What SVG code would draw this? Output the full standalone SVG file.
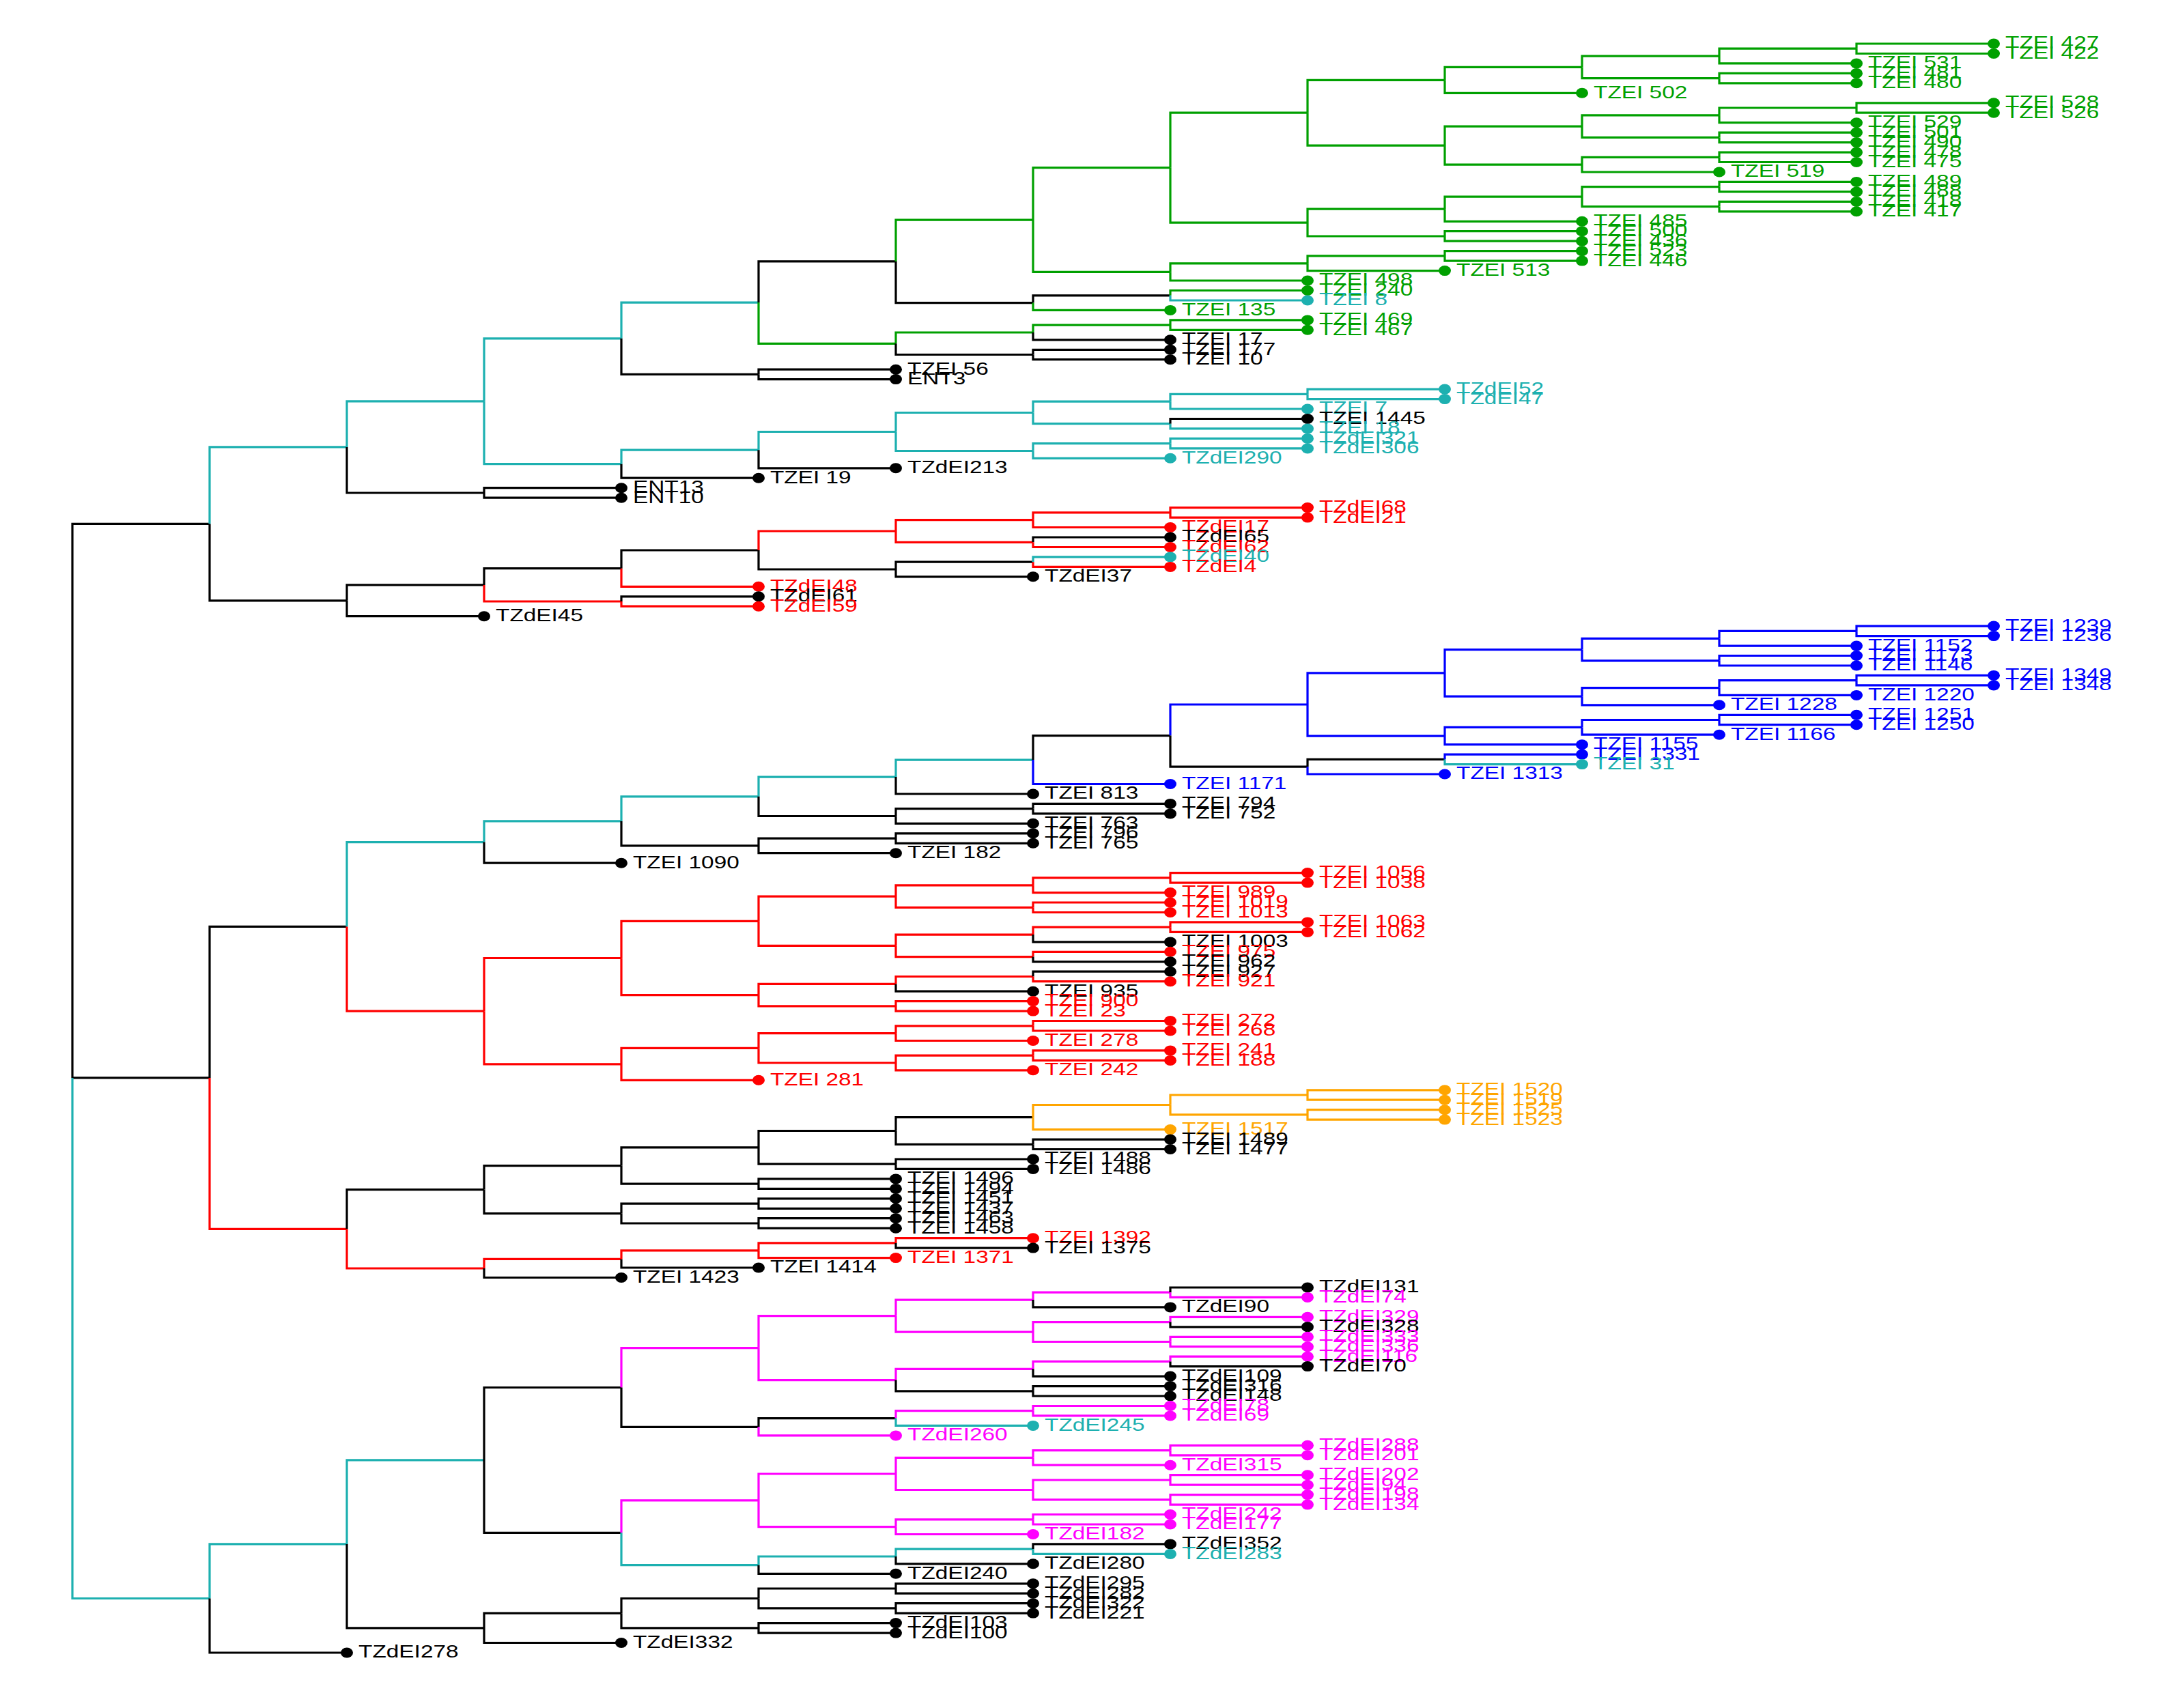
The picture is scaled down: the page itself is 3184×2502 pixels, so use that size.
<svg xmlns="http://www.w3.org/2000/svg" width="3184" height="2502" viewBox="0 0 3184 2502">
<style>
.E path{fill:none;stroke-width:3.2;stroke-linejoin:miter}
.E .k{stroke:#000}.E .g{stroke:#00A000}.E .c{stroke:#1DB0B0}.E .r{stroke:#FF0000}.E .b{stroke:#0000FF}.E .m{stroke:#FF00FF}.E .o{stroke:#FFA500}
.N .k{fill:#000}.N .g{fill:#00A000}.N .c{fill:#1DB0B0}.N .r{fill:#FF0000}.N .b{fill:#0000FF}.N .m{fill:#FF00FF}.N .o{fill:#FFA500}
.N ellipse{rx:9px;ry:7.5px}
.N text{font-family:"Liberation Sans",Arial,sans-serif;font-size:26.5px;transform:scale(1.26,1)}
</style>
<rect width="3184" height="2502" fill="#fff"/>
<g id="connectors" class="E">
<path class="k" d="M106,1578.9V767.4H307"/><path class="k" d="M106,1578.9H307"/><path class="c" d="M106,1578.9V2341.5H307"/>
<path class="c" d="M307,767.4V654.9H508"/><path class="k" d="M307,767.4V879.8H508"/>
<path class="c" d="M508,654.9V587.8H709"/><path class="k" d="M508,654.9V722H709"/>
<path class="c" d="M709,587.8V495.8H910"/><path class="c" d="M709,587.8V679.7H910"/>
<path class="c" d="M910,495.8V443.1H1111"/><path class="k" d="M910,495.8V548.4H1111"/>
<path class="k" d="M1111,443.1V382.9H1312"/><path class="g" d="M1111,443.1V503.3H1312"/>
<path class="g" d="M1312,382.9V322.1H1513"/><path class="k" d="M1312,382.9V443.6H1513"/>
<path class="g" d="M1513,322.1V245.7H1714"/><path class="g" d="M1513,322.1V398.4H1714"/>
<path class="g" d="M1714,245.7V165.2H1915"/><path class="g" d="M1714,245.7V326.1H1915"/>
<path class="g" d="M1915,165.2V117.3H2116"/><path class="g" d="M1915,165.2V213.1H2116"/>
<path class="g" d="M2116,117.3V98.3H2317"/><path class="g" d="M2116,117.3V136.3H2317"/>
<path class="g" d="M2317,98.3V82.1H2518"/><path class="g" d="M2317,98.3V114.6H2518"/>
<path class="g" d="M2518,82.1V71.2H2719"/><path class="g" d="M2518,82.1V92.9H2719"/>
<path class="g" d="M2719,71.2V64H2920"/><path class="g" d="M2719,71.2V78.5H2920"/>
<path class="g" d="M2518,114.6V107.4H2719"/><path class="g" d="M2518,114.6V121.8H2719"/>
<path class="g" d="M2116,213.1V185.1H2317"/><path class="g" d="M2116,213.1V241.1H2317"/>
<path class="g" d="M2317,185.1V168.8H2518"/><path class="g" d="M2317,185.1V201.4H2518"/>
<path class="g" d="M2518,168.8V158H2719"/><path class="g" d="M2518,168.8V179.7H2719"/>
<path class="g" d="M2719,158V150.8H2920"/><path class="g" d="M2719,158V165.2H2920"/>
<path class="g" d="M2518,201.4V194.1H2719"/><path class="g" d="M2518,201.4V208.6H2719"/>
<path class="g" d="M2317,241.1V230.3H2518"/><path class="g" d="M2317,241.1V252H2518"/>
<path class="g" d="M2518,230.3V223.1H2719"/><path class="g" d="M2518,230.3V237.5H2719"/>
<path class="g" d="M1915,326.1V306.2H2116"/><path class="g" d="M1915,326.1V346H2116"/>
<path class="g" d="M2116,306.2V288.1H2317"/><path class="g" d="M2116,306.2V324.3H2317"/>
<path class="g" d="M2317,288.1V273.7H2518"/><path class="g" d="M2317,288.1V302.6H2518"/>
<path class="g" d="M2518,273.7V266.4H2719"/><path class="g" d="M2518,273.7V280.9H2719"/>
<path class="g" d="M2518,302.6V295.4H2719"/><path class="g" d="M2518,302.6V309.8H2719"/>
<path class="g" d="M2116,346V338.7H2317"/><path class="g" d="M2116,346V353.2H2317"/>
<path class="g" d="M1714,398.4V385.8H1915"/><path class="g" d="M1714,398.4V411H1915"/>
<path class="g" d="M1915,385.8V374.9H2116"/><path class="g" d="M1915,385.8V396.6H2116"/>
<path class="g" d="M2116,374.9V367.7H2317"/><path class="g" d="M2116,374.9V382.1H2317"/>
<path class="k" d="M1513,443.6V432.8H1714"/><path class="g" d="M1513,443.6V454.4H1714"/>
<path class="g" d="M1714,432.8V425.5H1915"/><path class="c" d="M1714,432.8V440H1915"/>
<path class="g" d="M1312,503.3V487H1513"/><path class="k" d="M1312,503.3V519.5H1513"/>
<path class="g" d="M1513,487V476.1H1714"/><path class="k" d="M1513,487V497.8H1714"/>
<path class="g" d="M1714,476.1V468.9H1915"/><path class="g" d="M1714,476.1V483.3H1915"/>
<path class="k" d="M1513,519.5V512.3H1714"/><path class="k" d="M1513,519.5V526.7H1714"/>
<path class="k" d="M1111,548.4V541.2H1312"/><path class="k" d="M1111,548.4V555.6H1312"/>
<path class="c" d="M910,679.7V659.2H1111"/><path class="k" d="M910,679.7V700.2H1111"/>
<path class="c" d="M1111,659.2V632.5H1312"/><path class="k" d="M1111,659.2V685.8H1312"/>
<path class="c" d="M1312,632.5V604.5H1513"/><path class="c" d="M1312,632.5V660.5H1513"/>
<path class="c" d="M1513,604.5V588.2H1714"/><path class="c" d="M1513,604.5V620.7H1714"/>
<path class="c" d="M1714,588.2V577.4H1915"/><path class="c" d="M1714,588.2V599H1915"/>
<path class="c" d="M1915,577.4V570.1H2116"/><path class="c" d="M1915,577.4V584.6H2116"/>
<path class="k" d="M1714,620.7V613.5H1915"/><path class="c" d="M1714,620.7V627.9H1915"/>
<path class="c" d="M1513,660.5V649.7H1714"/><path class="c" d="M1513,660.5V671.3H1714"/>
<path class="c" d="M1714,649.7V642.4H1915"/><path class="c" d="M1714,649.7V656.9H1915"/>
<path class="k" d="M709,722V714.7H910"/><path class="k" d="M709,722V729.2H910"/>
<path class="k" d="M508,879.8V856.9H709"/><path class="k" d="M508,879.8V902.7H709"/>
<path class="k" d="M709,856.9V832.7H910"/><path class="r" d="M709,856.9V881H910"/>
<path class="k" d="M910,832.7V806H1111"/><path class="r" d="M910,832.7V859.3H1111"/>
<path class="k" d="M910,881V873.8H1111"/><path class="r" d="M910,881V888.2H1111"/>
<path class="r" d="M1111,806V778H1312"/><path class="k" d="M1111,806V834H1312"/>
<path class="r" d="M1312,778V761.7H1513"/><path class="r" d="M1312,778V794.3H1513"/>
<path class="r" d="M1513,761.7V750.9H1714"/><path class="r" d="M1513,761.7V772.5H1714"/>
<path class="r" d="M1714,750.9V743.6H1915"/><path class="r" d="M1714,750.9V758.1H1915"/>
<path class="k" d="M1513,794.3V787H1714"/><path class="r" d="M1513,794.3V801.5H1714"/>
<path class="k" d="M1312,834V823.2H1513"/><path class="k" d="M1312,834V844.8H1513"/>
<path class="c" d="M1513,823.2V815.9H1714"/><path class="r" d="M1513,823.2V830.4H1714"/>
<path class="k" d="M307,1578.9V1357.4H508"/><path class="r" d="M307,1578.9V1800.3H508"/>
<path class="c" d="M508,1357.4V1233.6H709"/><path class="r" d="M508,1357.4V1481.2H709"/>
<path class="c" d="M709,1233.6V1202.9H910"/><path class="k" d="M709,1233.6V1264.2H910"/>
<path class="c" d="M910,1202.9V1166.8H1111"/><path class="k" d="M910,1202.9V1238.9H1111"/>
<path class="c" d="M1111,1166.8V1138.1H1312"/><path class="k" d="M1111,1166.8V1195.5H1312"/>
<path class="c" d="M1312,1138.1V1113.1H1513"/><path class="k" d="M1312,1138.1V1163H1513"/>
<path class="k" d="M1513,1113.1V1077.6H1714"/><path class="b" d="M1513,1113.1V1148.5H1714"/>
<path class="b" d="M1714,1077.6V1032H1915"/><path class="k" d="M1714,1077.6V1123.2H1915"/>
<path class="b" d="M1915,1032V985.9H2116"/><path class="b" d="M1915,1032V1078.1H2116"/>
<path class="b" d="M2116,985.9V951.6H2317"/><path class="b" d="M2116,985.9V1020.2H2317"/>
<path class="b" d="M2317,951.6V935.3H2518"/><path class="b" d="M2317,951.6V967.8H2518"/>
<path class="b" d="M2518,935.3V924.4H2719"/><path class="b" d="M2518,935.3V946.1H2719"/>
<path class="b" d="M2719,924.4V917.1H2920"/><path class="b" d="M2719,924.4V931.6H2920"/>
<path class="b" d="M2518,967.8V960.5H2719"/><path class="b" d="M2518,967.8V975H2719"/>
<path class="b" d="M2317,1020.2V1007.6H2518"/><path class="b" d="M2317,1020.2V1032.8H2518"/>
<path class="b" d="M2518,1007.6V996.7H2719"/><path class="b" d="M2518,1007.6V1018.4H2719"/>
<path class="b" d="M2719,996.7V989.4H2920"/><path class="b" d="M2719,996.7V1003.9H2920"/>
<path class="b" d="M2116,1078.1V1065.4H2317"/><path class="b" d="M2116,1078.1V1090.7H2317"/>
<path class="b" d="M2317,1065.4V1054.5H2518"/><path class="b" d="M2317,1065.4V1076.2H2518"/>
<path class="b" d="M2518,1054.5V1047.3H2719"/><path class="b" d="M2518,1054.5V1061.7H2719"/>
<path class="k" d="M1915,1123.2V1112.4H2116"/><path class="b" d="M1915,1123.2V1134H2116"/>
<path class="b" d="M2116,1112.4V1105.1H2317"/><path class="c" d="M2116,1112.4V1119.6H2317"/>
<path class="k" d="M1312,1195.5V1184.7H1513"/><path class="k" d="M1312,1195.5V1206.3H1513"/>
<path class="k" d="M1513,1184.7V1177.4H1714"/><path class="k" d="M1513,1184.7V1191.9H1714"/>
<path class="k" d="M1111,1238.9V1228.1H1312"/><path class="k" d="M1111,1238.9V1249.7H1312"/>
<path class="k" d="M1312,1228.1V1220.8H1513"/><path class="k" d="M1312,1228.1V1235.3H1513"/>
<path class="r" d="M709,1481.2V1403.5H910"/><path class="r" d="M709,1481.2V1558.9H910"/>
<path class="r" d="M910,1403.5V1349.3H1111"/><path class="r" d="M910,1403.5V1457.7H1111"/>
<path class="r" d="M1111,1349.3V1313.1H1312"/><path class="r" d="M1111,1349.3V1385.4H1312"/>
<path class="r" d="M1312,1313.1V1296.8H1513"/><path class="r" d="M1312,1313.1V1329.3H1513"/>
<path class="r" d="M1513,1296.8V1285.9H1714"/><path class="r" d="M1513,1296.8V1307.6H1714"/>
<path class="r" d="M1714,1285.9V1278.6H1915"/><path class="r" d="M1714,1285.9V1293.1H1915"/>
<path class="r" d="M1513,1329.3V1322H1714"/><path class="r" d="M1513,1329.3V1336.5H1714"/>
<path class="r" d="M1312,1385.4V1369.1H1513"/><path class="r" d="M1312,1385.4V1401.6H1513"/>
<path class="r" d="M1513,1369.1V1358.2H1714"/><path class="k" d="M1513,1369.1V1379.9H1714"/>
<path class="r" d="M1714,1358.2V1350.9H1915"/><path class="r" d="M1714,1358.2V1365.4H1915"/>
<path class="r" d="M1513,1401.6V1394.3H1714"/><path class="k" d="M1513,1401.6V1408.8H1714"/>
<path class="r" d="M1111,1457.7V1441.4H1312"/><path class="r" d="M1111,1457.7V1473.9H1312"/>
<path class="r" d="M1312,1441.4V1430.5H1513"/><path class="k" d="M1312,1441.4V1452.2H1513"/>
<path class="k" d="M1513,1430.5V1423.2H1714"/><path class="r" d="M1513,1430.5V1437.7H1714"/>
<path class="r" d="M1312,1473.9V1466.6H1513"/><path class="r" d="M1312,1473.9V1481.1H1513"/>
<path class="r" d="M910,1558.9V1535.4H1111"/><path class="r" d="M910,1558.9V1582.3H1111"/>
<path class="r" d="M1111,1535.4V1513.7H1312"/><path class="r" d="M1111,1535.4V1557H1312"/>
<path class="r" d="M1312,1513.7V1502.8H1513"/><path class="r" d="M1312,1513.7V1524.5H1513"/>
<path class="r" d="M1513,1502.8V1495.5H1714"/><path class="r" d="M1513,1502.8V1510H1714"/>
<path class="r" d="M1312,1557V1546.2H1513"/><path class="r" d="M1312,1557V1567.8H1513"/>
<path class="r" d="M1513,1546.2V1538.9H1714"/><path class="r" d="M1513,1546.2V1553.4H1714"/>
<path class="k" d="M508,1800.3V1742.6H709"/><path class="r" d="M508,1800.3V1858H709"/>
<path class="k" d="M709,1742.6V1707.6H910"/><path class="k" d="M709,1742.6V1777.6H910"/>
<path class="k" d="M910,1707.6V1680.9H1111"/><path class="k" d="M910,1707.6V1734.2H1111"/>
<path class="k" d="M1111,1680.9V1656.5H1312"/><path class="k" d="M1111,1680.9V1705.2H1312"/>
<path class="k" d="M1312,1656.5V1636.6H1513"/><path class="k" d="M1312,1656.5V1676.3H1513"/>
<path class="o" d="M1513,1636.6V1618.5H1714"/><path class="o" d="M1513,1636.6V1654.6H1714"/>
<path class="o" d="M1714,1618.5V1604H1915"/><path class="o" d="M1714,1618.5V1632.9H1915"/>
<path class="o" d="M1915,1604V1596.8H2116"/><path class="o" d="M1915,1604V1611.2H2116"/>
<path class="o" d="M1915,1632.9V1625.7H2116"/><path class="o" d="M1915,1632.9V1640.1H2116"/>
<path class="k" d="M1513,1676.3V1669.1H1714"/><path class="k" d="M1513,1676.3V1683.5H1714"/>
<path class="k" d="M1312,1705.2V1698H1513"/><path class="k" d="M1312,1705.2V1712.4H1513"/>
<path class="k" d="M1111,1734.2V1726.9H1312"/><path class="k" d="M1111,1734.2V1741.4H1312"/>
<path class="k" d="M910,1777.6V1763.1H1111"/><path class="k" d="M910,1777.6V1792H1111"/>
<path class="k" d="M1111,1763.1V1755.8H1312"/><path class="k" d="M1111,1763.1V1770.3H1312"/>
<path class="k" d="M1111,1792V1784.7H1312"/><path class="k" d="M1111,1792V1799.2H1312"/>
<path class="r" d="M709,1858V1844.4H910"/><path class="k" d="M709,1858V1871.5H910"/>
<path class="r" d="M910,1844.4V1831.8H1111"/><path class="k" d="M910,1844.4V1857H1111"/>
<path class="r" d="M1111,1831.8V1820.9H1312"/><path class="r" d="M1111,1831.8V1842.6H1312"/>
<path class="r" d="M1312,1820.9V1813.7H1513"/><path class="k" d="M1312,1820.9V1828.1H1513"/>
<path class="c" d="M307,2341.5V2261.9H508"/><path class="k" d="M307,2341.5V2421H508"/>
<path class="c" d="M508,2261.9V2138.9H709"/><path class="k" d="M508,2261.9V2384.9H709"/>
<path class="k" d="M709,2138.9V2032.5H910"/><path class="k" d="M709,2138.9V2245.3H910"/>
<path class="m" d="M910,2032.5V1974.6H1111"/><path class="k" d="M910,2032.5V2090.3H1111"/>
<path class="m" d="M1111,1974.6V1927.6H1312"/><path class="m" d="M1111,1974.6V2021.6H1312"/>
<path class="m" d="M1312,1927.6V1904.1H1513"/><path class="m" d="M1312,1927.6V1951.1H1513"/>
<path class="m" d="M1513,1904.1V1893.2H1714"/><path class="k" d="M1513,1904.1V1914.9H1714"/>
<path class="k" d="M1714,1893.2V1886H1915"/><path class="m" d="M1714,1893.2V1900.4H1915"/>
<path class="m" d="M1513,1951.1V1936.6H1714"/><path class="m" d="M1513,1951.1V1965.5H1714"/>
<path class="m" d="M1714,1936.6V1929.3H1915"/><path class="k" d="M1714,1936.6V1943.8H1915"/>
<path class="m" d="M1714,1965.5V1958.3H1915"/><path class="m" d="M1714,1965.5V1972.7H1915"/>
<path class="m" d="M1312,2021.6V2005.3H1513"/><path class="k" d="M1312,2021.6V2037.8H1513"/>
<path class="m" d="M1513,2005.3V1994.4H1714"/><path class="k" d="M1513,2005.3V2016.1H1714"/>
<path class="m" d="M1714,1994.4V1987.2H1915"/><path class="k" d="M1714,1994.4V2001.6H1915"/>
<path class="k" d="M1513,2037.8V2030.6H1714"/><path class="k" d="M1513,2037.8V2045H1714"/>
<path class="k" d="M1111,2090.3V2077.6H1312"/><path class="m" d="M1111,2090.3V2102.9H1312"/>
<path class="m" d="M1312,2077.6V2066.7H1513"/><path class="c" d="M1312,2077.6V2088.4H1513"/>
<path class="m" d="M1513,2066.7V2059.5H1714"/><path class="m" d="M1513,2066.7V2073.9H1714"/>
<path class="m" d="M910,2245.3V2197.9H1111"/><path class="c" d="M910,2245.3V2292.7H1111"/>
<path class="m" d="M1111,2197.9V2159H1312"/><path class="m" d="M1111,2197.9V2236.7H1312"/>
<path class="m" d="M1312,2159V2135.4H1513"/><path class="m" d="M1312,2159V2182.5H1513"/>
<path class="m" d="M1513,2135.4V2124.6H1714"/><path class="m" d="M1513,2135.4V2146.2H1714"/>
<path class="m" d="M1714,2124.6V2117.3H1915"/><path class="m" d="M1714,2124.6V2131.8H1915"/>
<path class="m" d="M1513,2182.5V2168H1714"/><path class="m" d="M1513,2182.5V2196.9H1714"/>
<path class="m" d="M1714,2168V2160.7H1915"/><path class="m" d="M1714,2168V2175.2H1915"/>
<path class="m" d="M1714,2196.9V2189.6H1915"/><path class="m" d="M1714,2196.9V2204.1H1915"/>
<path class="m" d="M1312,2236.7V2225.8H1513"/><path class="m" d="M1312,2236.7V2247.5H1513"/>
<path class="m" d="M1513,2225.8V2218.5H1714"/><path class="m" d="M1513,2225.8V2233H1714"/>
<path class="c" d="M1111,2292.7V2280H1312"/><path class="k" d="M1111,2292.7V2305.3H1312"/>
<path class="c" d="M1312,2280V2269.2H1513"/><path class="k" d="M1312,2280V2290.8H1513"/>
<path class="k" d="M1513,2269.2V2261.9H1714"/><path class="c" d="M1513,2269.2V2276.4H1714"/>
<path class="k" d="M709,2384.9V2363.2H910"/><path class="k" d="M709,2384.9V2406.5H910"/>
<path class="k" d="M910,2363.2V2341.5H1111"/><path class="k" d="M910,2363.2V2384.9H1111"/>
<path class="k" d="M1111,2341.5V2327H1312"/><path class="k" d="M1111,2341.5V2355.9H1312"/>
<path class="k" d="M1312,2327V2319.8H1513"/><path class="k" d="M1312,2327V2334.2H1513"/>
<path class="k" d="M1312,2355.9V2348.7H1513"/><path class="k" d="M1312,2355.9V2363.1H1513"/>
<path class="k" d="M1111,2384.9V2377.6H1312"/><path class="k" d="M1111,2384.9V2392.1H1312"/>
</g>
<g id="nodes" class="N">
<g id="n1" class="g"><ellipse cx="2920" cy="64"/><text x="2331" y="71.5">TZEI 427</text></g>
<g id="n2" class="g"><ellipse cx="2920" cy="78.5"/><text x="2331" y="86">TZEI 422</text></g>
<g id="n3" class="g"><ellipse cx="2719" cy="92.9"/><text x="2171.4" y="100.4">TZEI 531</text></g>
<g id="n4" class="g"><ellipse cx="2719" cy="107.4"/><text x="2171.4" y="114.9">TZEI 481</text></g>
<g id="n5" class="g"><ellipse cx="2719" cy="121.8"/><text x="2171.4" y="129.3">TZEI 480</text></g>
<g id="n6" class="g"><ellipse cx="2317" cy="136.3"/><text x="1852.4" y="143.8">TZEI 502</text></g>
<g id="n7" class="g"><ellipse cx="2920" cy="150.8"/><text x="2331" y="158.3">TZEI 528</text></g>
<g id="n8" class="g"><ellipse cx="2920" cy="165.2"/><text x="2331" y="172.7">TZEI 526</text></g>
<g id="n9" class="g"><ellipse cx="2719" cy="179.7"/><text x="2171.4" y="187.2">TZEI 529</text></g>
<g id="n10" class="g"><ellipse cx="2719" cy="194.1"/><text x="2171.4" y="201.6">TZEI 501</text></g>
<g id="n11" class="g"><ellipse cx="2719" cy="208.6"/><text x="2171.4" y="216.1">TZEI 490</text></g>
<g id="n12" class="g"><ellipse cx="2719" cy="223.1"/><text x="2171.4" y="230.6">TZEI 478</text></g>
<g id="n13" class="g"><ellipse cx="2719" cy="237.5"/><text x="2171.4" y="245">TZEI 475</text></g>
<g id="n14" class="g"><ellipse cx="2518" cy="252"/><text x="2011.9" y="259.5">TZEI 519</text></g>
<g id="n15" class="g"><ellipse cx="2719" cy="266.4"/><text x="2171.4" y="273.9">TZEI 489</text></g>
<g id="n16" class="g"><ellipse cx="2719" cy="280.9"/><text x="2171.4" y="288.4">TZEI 488</text></g>
<g id="n17" class="g"><ellipse cx="2719" cy="295.4"/><text x="2171.4" y="302.9">TZEI 418</text></g>
<g id="n18" class="g"><ellipse cx="2719" cy="309.8"/><text x="2171.4" y="317.3">TZEI 417</text></g>
<g id="n19" class="g"><ellipse cx="2317" cy="324.3"/><text x="1852.4" y="331.8">TZEI 485</text></g>
<g id="n20" class="g"><ellipse cx="2317" cy="338.7"/><text x="1852.4" y="346.2">TZEI 500</text></g>
<g id="n21" class="g"><ellipse cx="2317" cy="353.2"/><text x="1852.4" y="360.7">TZEI 436</text></g>
<g id="n22" class="g"><ellipse cx="2317" cy="367.7"/><text x="1852.4" y="375.2">TZEI 523</text></g>
<g id="n23" class="g"><ellipse cx="2317" cy="382.1"/><text x="1852.4" y="389.6">TZEI 446</text></g>
<g id="n24" class="g"><ellipse cx="2116" cy="396.6"/><text x="1692.9" y="404.1">TZEI 513</text></g>
<g id="n25" class="g"><ellipse cx="1915" cy="411"/><text x="1533.3" y="418.5">TZEI 498</text></g>
<g id="n26" class="g"><ellipse cx="1915" cy="425.5"/><text x="1533.3" y="433">TZEI 240</text></g>
<g id="n27" class="c"><ellipse cx="1915" cy="440"/><text x="1533.3" y="447.5">TZEI 8</text></g>
<g id="n28" class="g"><ellipse cx="1714" cy="454.4"/><text x="1373.8" y="461.9">TZEI 135</text></g>
<g id="n29" class="g"><ellipse cx="1915" cy="468.9"/><text x="1533.3" y="476.4">TZEI 469</text></g>
<g id="n30" class="g"><ellipse cx="1915" cy="483.3"/><text x="1533.3" y="490.8">TZEI 467</text></g>
<g id="n31" class="k"><ellipse cx="1714" cy="497.8"/><text x="1373.8" y="505.3">TZEI 17</text></g>
<g id="n32" class="k"><ellipse cx="1714" cy="512.3"/><text x="1373.8" y="519.8">TZEI 177</text></g>
<g id="n33" class="k"><ellipse cx="1714" cy="526.7"/><text x="1373.8" y="534.2">TZEI 10</text></g>
<g id="n34" class="k"><ellipse cx="1312" cy="541.2"/><text x="1054.8" y="548.7">TZEI 56</text></g>
<g id="n35" class="k"><ellipse cx="1312" cy="555.6"/><text x="1054.8" y="563.1">ENT3</text></g>
<g id="n36" class="c"><ellipse cx="2116" cy="570.1"/><text x="1692.9" y="577.6">TZdEI52</text></g>
<g id="n37" class="c"><ellipse cx="2116" cy="584.6"/><text x="1692.9" y="592.1">TZdEI47</text></g>
<g id="n38" class="c"><ellipse cx="1915" cy="599"/><text x="1533.3" y="606.5">TZEI 7</text></g>
<g id="n39" class="k"><ellipse cx="1915" cy="613.5"/><text x="1533.3" y="621">TZEI 1445</text></g>
<g id="n40" class="c"><ellipse cx="1915" cy="627.9"/><text x="1533.3" y="635.4">TZEI 18</text></g>
<g id="n41" class="c"><ellipse cx="1915" cy="642.4"/><text x="1533.3" y="649.9">TZdEI321</text></g>
<g id="n42" class="c"><ellipse cx="1915" cy="656.9"/><text x="1533.3" y="664.4">TZdEI306</text></g>
<g id="n43" class="c"><ellipse cx="1714" cy="671.3"/><text x="1373.8" y="678.8">TZdEI290</text></g>
<g id="n44" class="k"><ellipse cx="1312" cy="685.8"/><text x="1054.8" y="693.3">TZdEI213</text></g>
<g id="n45" class="k"><ellipse cx="1111" cy="700.2"/><text x="895.2" y="707.7">TZEI 19</text></g>
<g id="n46" class="k"><ellipse cx="910" cy="714.7"/><text x="735.7" y="722.2">ENT13</text></g>
<g id="n47" class="k"><ellipse cx="910" cy="729.2"/><text x="735.7" y="736.7">ENT10</text></g>
<g id="n48" class="r"><ellipse cx="1915" cy="743.6"/><text x="1533.3" y="751.1">TZdEI68</text></g>
<g id="n49" class="r"><ellipse cx="1915" cy="758.1"/><text x="1533.3" y="765.6">TZdEI21</text></g>
<g id="n50" class="r"><ellipse cx="1714" cy="772.5"/><text x="1373.8" y="780">TZdEI17</text></g>
<g id="n51" class="k"><ellipse cx="1714" cy="787"/><text x="1373.8" y="794.5">TZdEI65</text></g>
<g id="n52" class="r"><ellipse cx="1714" cy="801.5"/><text x="1373.8" y="809">TZdEI62</text></g>
<g id="n53" class="c"><ellipse cx="1714" cy="815.9"/><text x="1373.8" y="823.4">TZdEI40</text></g>
<g id="n54" class="r"><ellipse cx="1714" cy="830.4"/><text x="1373.8" y="837.9">TZdEI4</text></g>
<g id="n55" class="k"><ellipse cx="1513" cy="844.8"/><text x="1214.3" y="852.3">TZdEI37</text></g>
<g id="n56" class="r"><ellipse cx="1111" cy="859.3"/><text x="895.2" y="866.8">TZdEI48</text></g>
<g id="n57" class="k"><ellipse cx="1111" cy="873.8"/><text x="895.2" y="881.3">TZdEI61</text></g>
<g id="n58" class="r"><ellipse cx="1111" cy="888.2"/><text x="895.2" y="895.7">TZdEI59</text></g>
<g id="n59" class="k"><ellipse cx="709" cy="902.7"/><text x="576.2" y="910.2">TZdEI45</text></g>
<g id="n60" class="b"><ellipse cx="2920" cy="917.1"/><text x="2331" y="924.6">TZEI 1239</text></g>
<g id="n61" class="b"><ellipse cx="2920" cy="931.6"/><text x="2331" y="939.1">TZEI 1236</text></g>
<g id="n62" class="b"><ellipse cx="2719" cy="946.1"/><text x="2171.4" y="953.6">TZEI 1152</text></g>
<g id="n63" class="b"><ellipse cx="2719" cy="960.5"/><text x="2171.4" y="968">TZEI 1173</text></g>
<g id="n64" class="b"><ellipse cx="2719" cy="975"/><text x="2171.4" y="982.5">TZEI 1146</text></g>
<g id="n65" class="b"><ellipse cx="2920" cy="989.4"/><text x="2331" y="996.9">TZEI 1349</text></g>
<g id="n66" class="b"><ellipse cx="2920" cy="1003.9"/><text x="2331" y="1011.4">TZEI 1348</text></g>
<g id="n67" class="b"><ellipse cx="2719" cy="1018.4"/><text x="2171.4" y="1025.9">TZEI 1220</text></g>
<g id="n68" class="b"><ellipse cx="2518" cy="1032.8"/><text x="2011.9" y="1040.3">TZEI 1228</text></g>
<g id="n69" class="b"><ellipse cx="2719" cy="1047.3"/><text x="2171.4" y="1054.8">TZEI 1251</text></g>
<g id="n70" class="b"><ellipse cx="2719" cy="1061.7"/><text x="2171.4" y="1069.2">TZEI 1250</text></g>
<g id="n71" class="b"><ellipse cx="2518" cy="1076.2"/><text x="2011.9" y="1083.7">TZEI 1166</text></g>
<g id="n72" class="b"><ellipse cx="2317" cy="1090.7"/><text x="1852.4" y="1098.2">TZEI 1155</text></g>
<g id="n73" class="b"><ellipse cx="2317" cy="1105.1"/><text x="1852.4" y="1112.6">TZEI 1331</text></g>
<g id="n74" class="c"><ellipse cx="2317" cy="1119.6"/><text x="1852.4" y="1127.1">TZEI 31</text></g>
<g id="n75" class="b"><ellipse cx="2116" cy="1134"/><text x="1692.9" y="1141.5">TZEI 1313</text></g>
<g id="n76" class="b"><ellipse cx="1714" cy="1148.5"/><text x="1373.8" y="1156">TZEI 1171</text></g>
<g id="n77" class="k"><ellipse cx="1513" cy="1163"/><text x="1214.3" y="1170.5">TZEI 813</text></g>
<g id="n78" class="k"><ellipse cx="1714" cy="1177.4"/><text x="1373.8" y="1184.9">TZEI 794</text></g>
<g id="n79" class="k"><ellipse cx="1714" cy="1191.9"/><text x="1373.8" y="1199.4">TZEI 752</text></g>
<g id="n80" class="k"><ellipse cx="1513" cy="1206.3"/><text x="1214.3" y="1213.8">TZEI 763</text></g>
<g id="n81" class="k"><ellipse cx="1513" cy="1220.8"/><text x="1214.3" y="1228.3">TZEI 796</text></g>
<g id="n82" class="k"><ellipse cx="1513" cy="1235.3"/><text x="1214.3" y="1242.8">TZEI 765</text></g>
<g id="n83" class="k"><ellipse cx="1312" cy="1249.7"/><text x="1054.8" y="1257.2">TZEI 182</text></g>
<g id="n84" class="k"><ellipse cx="910" cy="1264.2"/><text x="735.7" y="1271.7">TZEI 1090</text></g>
<g id="n85" class="r"><ellipse cx="1915" cy="1278.6"/><text x="1533.3" y="1286.1">TZEI 1056</text></g>
<g id="n86" class="r"><ellipse cx="1915" cy="1293.1"/><text x="1533.3" y="1300.6">TZEI 1038</text></g>
<g id="n87" class="r"><ellipse cx="1714" cy="1307.6"/><text x="1373.8" y="1315.1">TZEI 989</text></g>
<g id="n88" class="r"><ellipse cx="1714" cy="1322"/><text x="1373.8" y="1329.5">TZEI 1019</text></g>
<g id="n89" class="r"><ellipse cx="1714" cy="1336.5"/><text x="1373.8" y="1344">TZEI 1013</text></g>
<g id="n90" class="r"><ellipse cx="1915" cy="1350.9"/><text x="1533.3" y="1358.4">TZEI 1063</text></g>
<g id="n91" class="r"><ellipse cx="1915" cy="1365.4"/><text x="1533.3" y="1372.9">TZEI 1062</text></g>
<g id="n92" class="k"><ellipse cx="1714" cy="1379.9"/><text x="1373.8" y="1387.4">TZEI 1003</text></g>
<g id="n93" class="r"><ellipse cx="1714" cy="1394.3"/><text x="1373.8" y="1401.8">TZEI 975</text></g>
<g id="n94" class="k"><ellipse cx="1714" cy="1408.8"/><text x="1373.8" y="1416.3">TZEI 962</text></g>
<g id="n95" class="k"><ellipse cx="1714" cy="1423.2"/><text x="1373.8" y="1430.7">TZEI 927</text></g>
<g id="n96" class="r"><ellipse cx="1714" cy="1437.7"/><text x="1373.8" y="1445.2">TZEI 921</text></g>
<g id="n97" class="k"><ellipse cx="1513" cy="1452.2"/><text x="1214.3" y="1459.7">TZEI 935</text></g>
<g id="n98" class="r"><ellipse cx="1513" cy="1466.6"/><text x="1214.3" y="1474.1">TZEI 900</text></g>
<g id="n99" class="r"><ellipse cx="1513" cy="1481.1"/><text x="1214.3" y="1488.6">TZEI 23</text></g>
<g id="n100" class="r"><ellipse cx="1714" cy="1495.5"/><text x="1373.8" y="1503">TZEI 272</text></g>
<g id="n101" class="r"><ellipse cx="1714" cy="1510"/><text x="1373.8" y="1517.5">TZEI 268</text></g>
<g id="n102" class="r"><ellipse cx="1513" cy="1524.5"/><text x="1214.3" y="1532">TZEI 278</text></g>
<g id="n103" class="r"><ellipse cx="1714" cy="1538.9"/><text x="1373.8" y="1546.4">TZEI 241</text></g>
<g id="n104" class="r"><ellipse cx="1714" cy="1553.4"/><text x="1373.8" y="1560.9">TZEI 188</text></g>
<g id="n105" class="r"><ellipse cx="1513" cy="1567.8"/><text x="1214.3" y="1575.3">TZEI 242</text></g>
<g id="n106" class="r"><ellipse cx="1111" cy="1582.3"/><text x="895.2" y="1589.8">TZEI 281</text></g>
<g id="n107" class="o"><ellipse cx="2116" cy="1596.8"/><text x="1692.9" y="1604.3">TZEI 1520</text></g>
<g id="n108" class="o"><ellipse cx="2116" cy="1611.2"/><text x="1692.9" y="1618.7">TZEI 1519</text></g>
<g id="n109" class="o"><ellipse cx="2116" cy="1625.7"/><text x="1692.9" y="1633.2">TZEI 1525</text></g>
<g id="n110" class="o"><ellipse cx="2116" cy="1640.1"/><text x="1692.9" y="1647.6">TZEI 1523</text></g>
<g id="n111" class="o"><ellipse cx="1714" cy="1654.6"/><text x="1373.8" y="1662.1">TZEI 1517</text></g>
<g id="n112" class="k"><ellipse cx="1714" cy="1669.1"/><text x="1373.8" y="1676.6">TZEI 1489</text></g>
<g id="n113" class="k"><ellipse cx="1714" cy="1683.5"/><text x="1373.8" y="1691">TZEI 1477</text></g>
<g id="n114" class="k"><ellipse cx="1513" cy="1698"/><text x="1214.3" y="1705.5">TZEI 1488</text></g>
<g id="n115" class="k"><ellipse cx="1513" cy="1712.4"/><text x="1214.3" y="1719.9">TZEI 1486</text></g>
<g id="n116" class="k"><ellipse cx="1312" cy="1726.9"/><text x="1054.8" y="1734.4">TZEI 1496</text></g>
<g id="n117" class="k"><ellipse cx="1312" cy="1741.4"/><text x="1054.8" y="1748.9">TZEI 1494</text></g>
<g id="n118" class="k"><ellipse cx="1312" cy="1755.8"/><text x="1054.8" y="1763.3">TZEI 1451</text></g>
<g id="n119" class="k"><ellipse cx="1312" cy="1770.3"/><text x="1054.8" y="1777.8">TZEI 1437</text></g>
<g id="n120" class="k"><ellipse cx="1312" cy="1784.7"/><text x="1054.8" y="1792.2">TZEI 1463</text></g>
<g id="n121" class="k"><ellipse cx="1312" cy="1799.2"/><text x="1054.8" y="1806.7">TZEI 1458</text></g>
<g id="n122" class="r"><ellipse cx="1513" cy="1813.7"/><text x="1214.3" y="1821.2">TZEI 1392</text></g>
<g id="n123" class="k"><ellipse cx="1513" cy="1828.1"/><text x="1214.3" y="1835.6">TZEI 1375</text></g>
<g id="n124" class="r"><ellipse cx="1312" cy="1842.6"/><text x="1054.8" y="1850.1">TZEI 1371</text></g>
<g id="n125" class="k"><ellipse cx="1111" cy="1857"/><text x="895.2" y="1864.5">TZEI 1414</text></g>
<g id="n126" class="k"><ellipse cx="910" cy="1871.5"/><text x="735.7" y="1879">TZEI 1423</text></g>
<g id="n127" class="k"><ellipse cx="1915" cy="1886"/><text x="1533.3" y="1893.5">TZdEI131</text></g>
<g id="n128" class="m"><ellipse cx="1915" cy="1900.4"/><text x="1533.3" y="1907.9">TZdEI74</text></g>
<g id="n129" class="k"><ellipse cx="1714" cy="1914.9"/><text x="1373.8" y="1922.4">TZdEI90</text></g>
<g id="n130" class="m"><ellipse cx="1915" cy="1929.3"/><text x="1533.3" y="1936.8">TZdEI329</text></g>
<g id="n131" class="k"><ellipse cx="1915" cy="1943.8"/><text x="1533.3" y="1951.3">TZdEI328</text></g>
<g id="n132" class="m"><ellipse cx="1915" cy="1958.3"/><text x="1533.3" y="1965.8">TZdEI333</text></g>
<g id="n133" class="m"><ellipse cx="1915" cy="1972.7"/><text x="1533.3" y="1980.2">TZdEI336</text></g>
<g id="n134" class="m"><ellipse cx="1915" cy="1987.2"/><text x="1533.3" y="1994.7">TZdEI116</text></g>
<g id="n135" class="k"><ellipse cx="1915" cy="2001.6"/><text x="1533.3" y="2009.1">TZdEI70</text></g>
<g id="n136" class="k"><ellipse cx="1714" cy="2016.1"/><text x="1373.8" y="2023.6">TZdEI109</text></g>
<g id="n137" class="k"><ellipse cx="1714" cy="2030.6"/><text x="1373.8" y="2038.1">TZdEI316</text></g>
<g id="n138" class="k"><ellipse cx="1714" cy="2045"/><text x="1373.8" y="2052.5">TZdEI148</text></g>
<g id="n139" class="m"><ellipse cx="1714" cy="2059.5"/><text x="1373.8" y="2067">TZdEI78</text></g>
<g id="n140" class="m"><ellipse cx="1714" cy="2073.9"/><text x="1373.8" y="2081.4">TZdEI69</text></g>
<g id="n141" class="c"><ellipse cx="1513" cy="2088.4"/><text x="1214.3" y="2095.9">TZdEI245</text></g>
<g id="n142" class="m"><ellipse cx="1312" cy="2102.9"/><text x="1054.8" y="2110.4">TZdEI260</text></g>
<g id="n143" class="m"><ellipse cx="1915" cy="2117.3"/><text x="1533.3" y="2124.8">TZdEI288</text></g>
<g id="n144" class="m"><ellipse cx="1915" cy="2131.8"/><text x="1533.3" y="2139.3">TZdEI201</text></g>
<g id="n145" class="m"><ellipse cx="1714" cy="2146.2"/><text x="1373.8" y="2153.7">TZdEI315</text></g>
<g id="n146" class="m"><ellipse cx="1915" cy="2160.7"/><text x="1533.3" y="2168.2">TZdEI202</text></g>
<g id="n147" class="m"><ellipse cx="1915" cy="2175.2"/><text x="1533.3" y="2182.7">TZdEI94</text></g>
<g id="n148" class="m"><ellipse cx="1915" cy="2189.6"/><text x="1533.3" y="2197.1">TZdEI198</text></g>
<g id="n149" class="m"><ellipse cx="1915" cy="2204.1"/><text x="1533.3" y="2211.6">TZdEI134</text></g>
<g id="n150" class="m"><ellipse cx="1714" cy="2218.5"/><text x="1373.8" y="2226">TZdEI242</text></g>
<g id="n151" class="m"><ellipse cx="1714" cy="2233"/><text x="1373.8" y="2240.5">TZdEI177</text></g>
<g id="n152" class="m"><ellipse cx="1513" cy="2247.5"/><text x="1214.3" y="2255">TZdEI182</text></g>
<g id="n153" class="k"><ellipse cx="1714" cy="2261.9"/><text x="1373.8" y="2269.4">TZdEI352</text></g>
<g id="n154" class="c"><ellipse cx="1714" cy="2276.4"/><text x="1373.8" y="2283.9">TZdEI283</text></g>
<g id="n155" class="k"><ellipse cx="1513" cy="2290.8"/><text x="1214.3" y="2298.3">TZdEI280</text></g>
<g id="n156" class="k"><ellipse cx="1312" cy="2305.3"/><text x="1054.8" y="2312.8">TZdEI240</text></g>
<g id="n157" class="k"><ellipse cx="1513" cy="2319.8"/><text x="1214.3" y="2327.3">TZdEI295</text></g>
<g id="n158" class="k"><ellipse cx="1513" cy="2334.2"/><text x="1214.3" y="2341.7">TZdEI282</text></g>
<g id="n159" class="k"><ellipse cx="1513" cy="2348.7"/><text x="1214.3" y="2356.2">TZdEI322</text></g>
<g id="n160" class="k"><ellipse cx="1513" cy="2363.1"/><text x="1214.3" y="2370.6">TZdEI221</text></g>
<g id="n161" class="k"><ellipse cx="1312" cy="2377.6"/><text x="1054.8" y="2385.1">TZdEI103</text></g>
<g id="n162" class="k"><ellipse cx="1312" cy="2392.1"/><text x="1054.8" y="2399.6">TZdEI100</text></g>
<g id="n163" class="k"><ellipse cx="910" cy="2406.5"/><text x="735.7" y="2414">TZdEI332</text></g>
<g id="n164" class="k"><ellipse cx="508" cy="2421"/><text x="416.7" y="2428.5">TZdEI278</text></g>
</g>
</svg>
